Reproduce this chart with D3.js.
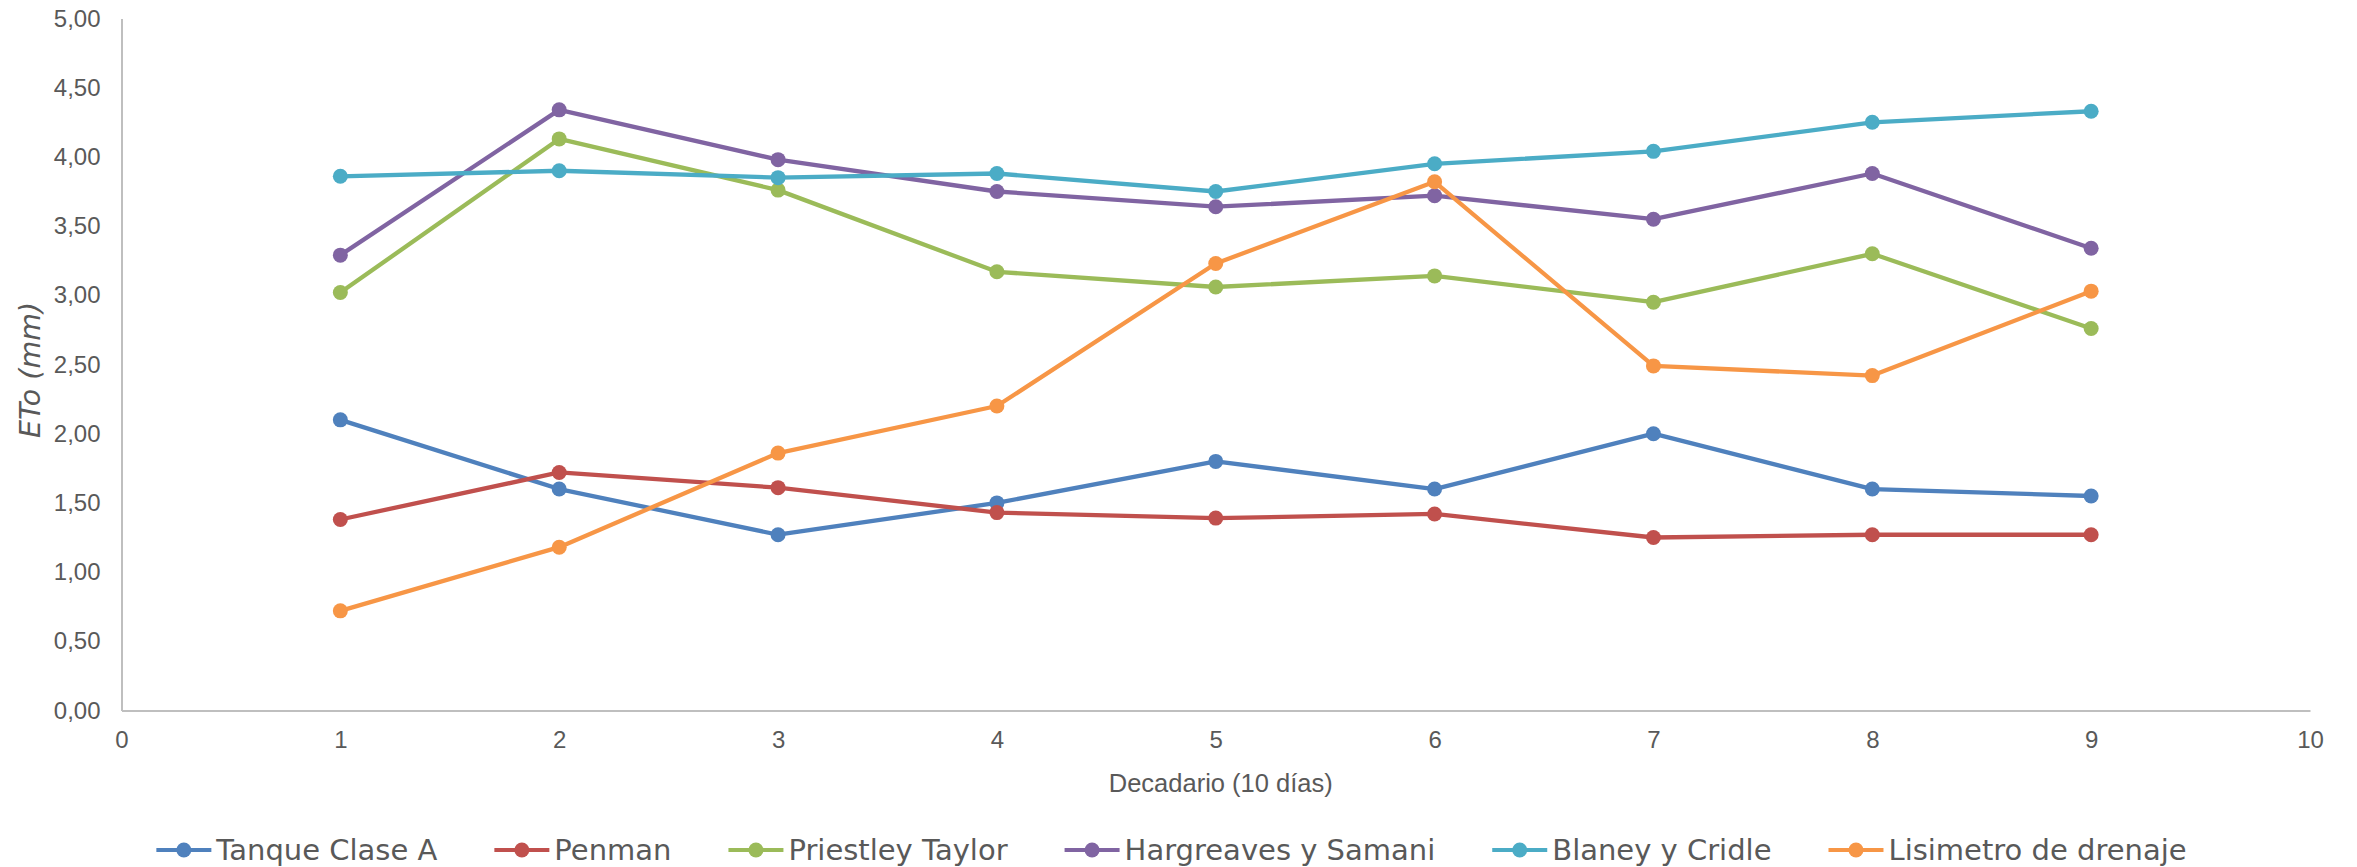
<!DOCTYPE html>
<html>
<head>
<meta charset="utf-8">
<script src="https://cdn.jsdelivr.net/npm/d3@7"></script>
<style>
  html, body { margin: 0; padding: 0; background: #ffffff; }
  svg { display: block; }
</style>
</head>
<body>
<div id="chart"></div>
<script>
// Decadal reference evapotranspiration (ETo, mm) estimated by six methods
const decades = [1, 2, 3, 4, 5, 6, 7, 8, 9];

const tanqueClaseA      = [2.10, 1.60, 1.27, 1.50, 1.80, 1.60, 2.00, 1.60, 1.55];
const penman            = [1.38, 1.72, 1.61, 1.43, 1.39, 1.42, 1.25, 1.27, 1.27];
const priestleyTaylor   = [3.02, 4.13, 3.76, 3.17, 3.06, 3.14, 2.95, 3.30, 2.76];
const hargreavesSamani  = [3.29, 4.34, 3.98, 3.75, 3.64, 3.72, 3.55, 3.88, 3.34];
const blaneyCridle      = [3.86, 3.90, 3.85, 3.88, 3.75, 3.95, 4.04, 4.25, 4.33];
const lisimetroDrenaje  = [0.72, 1.18, 1.86, 2.20, 3.23, 3.82, 2.49, 2.42, 3.03];

const seriesNames  = ["Tanque Clase A", "Penman", "Priestley Taylor", "Hargreaves y Samani", "Blaney y Cridle", "Lisimetro de drenaje"];
const seriesValues = [tanqueClaseA, penman, priestleyTaylor, hargreavesSamani, blaneyCridle, lisimetroDrenaje];
const seriesColors = ["#4F81BD", "#C0504D", "#9BBB59", "#8064A2", "#4BACC6", "#F79646"];

const yTicks = [0, 0.5, 1, 1.5, 2, 2.5, 3, 3.5, 4, 4.5, 5];
const xTicks = [0, 1, 2, 3, 4, 5, 6, 7, 8, 9, 10];

const xTitle = "Decadario (10 días)";
const yTitle = "ETo (mm)";

const W = 2357, H = 867;
const plot = { left: 121.5, right: 2310, top: 18.5, bottom: 710.5 };

const svg = d3.select("#chart").append("svg")
  .attr("width", W).attr("height", H)
  .attr("viewBox", `0 0 ${W} ${H}`);

const x = d3.scaleLinear().domain([0, 10]).range([plot.left, plot.right]);
const y = d3.scaleLinear().domain([0, 5]).range([plot.bottom, plot.top]);

const tickFont = "'Liberation Sans', Arial, sans-serif";
const legendFont = "'DejaVu Sans', Verdana, sans-serif";
const axisGrey = "#BFBFBF";
const textGrey = "#595959";

// Decimal comma, two places
const fmt = d3.format(".2f");
const comma = v => fmt(v).replace(".", ",");

// Y axis
const yAxis = svg.append("g")
  .attr("transform", `translate(${plot.left},0)`)
  .call(d3.axisLeft(y).tickValues(yTicks).tickFormat(comma).tickSize(0).tickPadding(21));
yAxis.select(".domain").attr("stroke", axisGrey).attr("stroke-width", 2);
yAxis.selectAll("text")
  .attr("fill", textGrey)
  .style("font-family", tickFont)
  .style("font-size", "24px");

// X axis
const xAxis = svg.append("g")
  .attr("transform", `translate(0,${plot.bottom})`)
  .call(d3.axisBottom(x).tickValues(xTicks).tickFormat(d3.format("d")).tickSize(0).tickPadding(20));
xAxis.select(".domain").attr("stroke", axisGrey).attr("stroke-width", 2);
xAxis.selectAll("text")
  .attr("fill", textGrey)
  .style("font-family", tickFont)
  .style("font-size", "24px");

// Axis titles
svg.append("text")
  .attr("x", (plot.left + plot.right) / 2 + 5)
  .attr("y", 792)
  .attr("text-anchor", "middle")
  .attr("fill", textGrey)
  .style("font-family", tickFont)
  .style("font-size", "25.5px")
  .text(xTitle);

svg.append("text")
  .attr("transform", "translate(40,370) rotate(-90)")
  .attr("text-anchor", "middle")
  .attr("fill", textGrey)
  .style("font-family", legendFont)
  .style("font-style", "italic")
  .style("font-size", "28.5px")
  .text(yTitle);

// Series lines and markers
const line = d3.line()
  .x((d, i) => x(decades[i]))
  .y(d => y(d));

seriesValues.forEach((vals, s) => {
  const g = svg.append("g").attr("class", "series");
  g.append("path")
    .datum(vals)
    .attr("d", line)
    .attr("fill", "none")
    .attr("stroke", seriesColors[s])
    .attr("stroke-width", 4.3)
    .attr("stroke-linejoin", "round")
    .attr("stroke-linecap", "round");
  g.selectAll("circle")
    .data(vals)
    .join("circle")
    .attr("cx", (d, i) => x(decades[i]))
    .attr("cy", d => y(d))
    .attr("r", 7.5)
    .attr("fill", seriesColors[s]);
});

// Legend: one row of line+marker swatches, centred under the chart
const legend = svg.append("g").attr("class", "legend");
const legendY = 850;
const markerW = 55, markerGap = 5, itemGap = 57;
let cursor = 0;
seriesNames.forEach((name, s) => {
  const item = legend.append("g").attr("transform", `translate(${cursor},0)`);
  item.append("line")
    .attr("x1", 0).attr("x2", markerW)
    .attr("y1", legendY).attr("y2", legendY)
    .attr("stroke", seriesColors[s]).attr("stroke-width", 4);
  item.append("circle")
    .attr("cx", markerW / 2).attr("cy", legendY).attr("r", 7.5)
    .attr("fill", seriesColors[s]);
  const t = item.append("text")
    .attr("x", markerW + markerGap)
    .attr("y", legendY)
    .attr("dy", "0.36em")
    .attr("fill", textGrey)
    .style("font-family", legendFont)
    .style("font-size", "29px")
    .text(name);
  cursor += markerW + markerGap + t.node().getComputedTextLength() + itemGap;
});
const legendWidth = cursor - itemGap;
const legendLeft = 155, legendRight = 2188;
legend.attr("transform", `translate(${legendLeft + ((legendRight - legendLeft) - legendWidth) / 2},0)`);
</script>
</body>
</html>
